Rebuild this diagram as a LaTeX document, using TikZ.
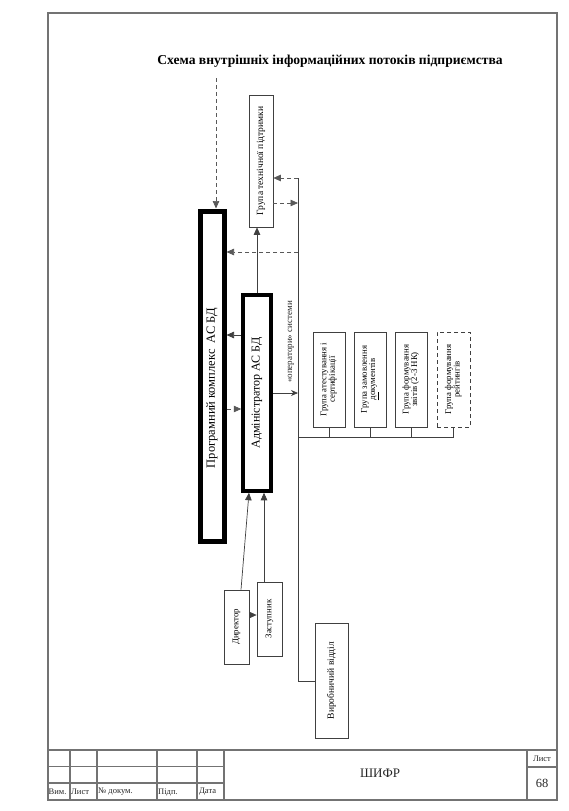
\documentclass[tikz,border=0pt]{standalone}
\usepackage{fontspec}
\setmainfont{Liberation Serif}
\usetikzlibrary{arrows.meta,calc}
\begin{document}
\begin{tikzpicture}[x=1pt,y=-1pt,
  thinbox/.style={draw=black!75, line width=0.7pt, inner sep=0pt, font=\fontsize{8.8}{9.5}\selectfont},
  ln/.style={draw=black!75, line width=0.7pt},
  arr/.style={ln, -{Triangle[length=7.5pt,width=6.5pt]}},
  darr/.style={arr, draw=black!65, dash pattern=on 4pt off 3pt},
  frame/.style={draw=black!55, line width=1.2pt},
  small/.style={font=\fontsize{8.5}{9}\selectfont, inner sep=0pt, text=black!85}]
\useasboundingbox (0,0) rectangle (568,811);
\renewcommand{\arraystretch}{0.85}
% title
\node[font=\bfseries\fontsize{13.6}{15}\selectfont] (title) at (330,61) {Схема внутрішніх інформаційних потоків підприємства};
% main boxes
\node[draw, line width=5pt, minimum width=24pt, minimum height=330pt, inner sep=0pt] (prog) at (212,376)
  {\rotatebox{90}{\fontsize{12.5}{13}\selectfont Програмний комплекс\ \ АС БД\hspace*{24pt}}};
\node[draw, line width=3.5pt, minimum width=28pt, minimum height=196pt, inner sep=0pt] (adm) at (257,393)
  {\rotatebox{90}{\fontsize{12}{13}\selectfont Адміністратор АС БД}};
\node[thinbox, minimum width=24pt, minimum height=132pt, font=\fontsize{9.5}{10}\selectfont] (tp) at (261,161)
  {\rotatebox{90}{Група технічної підтримки}};
% groups
\node[thinbox, minimum width=32pt, minimum height=95pt] (g1) at (329,379.5)
  {\rotatebox{90}{\begin{tabular}{@{}c@{}}Група атестування і\\сертифікації\end{tabular}}};
\node[thinbox, minimum width=32pt, minimum height=95pt] (g2) at (370,379.5)
  {\rotatebox{90}{\begin{tabular}{@{}c@{}}Група замовлення\\\underline{до}кументів\end{tabular}}};
\node[thinbox, minimum width=32pt, minimum height=95pt] (g3) at (411,379.5)
  {\rotatebox{90}{\begin{tabular}{@{}c@{}}Група формування\\звітів (2-3 НК)\end{tabular}}};
\node[thinbox, minimum width=33pt, minimum height=95pt, dash pattern=on 4pt off 3pt] (g4) at (453.5,379.5)
  {\rotatebox{90}{\begin{tabular}{@{}c@{}}Група формування\\рейтингів\end{tabular}}};
% bottom boxes
\node[thinbox, minimum width=25pt, minimum height=74pt] (dir) at (236.5,627) {\rotatebox{90}{Директор}};
\node[thinbox, minimum width=25pt, minimum height=74pt] (zast) at (269.5,619) {\rotatebox{90}{Заступник}};
\node[thinbox, minimum width=33pt, minimum height=115pt, font=\fontsize{9.5}{10}\selectfont] (vyr) at (331.5,680.5) {\rotatebox{90}{Виробничий відділ}};
% operators label
\node[small, rotate=90, font=\fontsize{9}{9}\selectfont] (oplab) at (291,342) {«оператори» системи};
% bus coordinates
\coordinate (bt) at (298,178);
\coordinate (b2) at (298,203);
\coordinate (b3) at (298,252);
\coordinate (b4) at (298,393);
\coordinate (b5) at (298,437);
\coordinate (bb) at (298,681);
\coordinate (dtop) at (216,78);
\coordinate (a1) at (257,335);
\coordinate (a2) at (257,409);
% connectors
\draw[darr] (dtop) -- (dtop |- prog.north);
\draw[arr] (adm.north) -- (adm.north |- tp.south);
\draw[ln] (bt) -- (bb) -- (bb -| vyr.west);
\draw[darr] (bt) -- (bt -| tp.east);
\draw[darr] (b2 -| tp.east) -- (b2);
\draw[darr] (b3) -- (b3 -| prog.east);
\draw[arr] (a1 -| adm.west) -- (a1 -| prog.east);
\draw[darr] (a2 -| prog.east) -- (a2 -| adm.west);
\draw[ln, -{Stealth[length=7pt,width=6pt]}] (b4 -| adm.east) -- (b4);
\draw[ln] (b5) -- (b5 -| g4.south);
\foreach \g in {g1,g2,g3,g4} \draw[ln] (\g.south) -- (\g.south |- b5);
\draw[arr] ($(dir.north)+(4.5,0)$) -- ($(adm.south)+(-8,0)$);
\draw[arr] ($(zast.north)+(-5.5,0)$) coordinate (zt) -- (zt |- adm.south);
\draw[arr] ($(dir.east)+(0,-12)$) coordinate (dz) -- (dz -| zast.west);
% frame and title block
\draw[frame] (48,13) rectangle (557,800);
\draw[frame] (48,750) -- (557,750);
\foreach \x in {70,97,157,197,224,527} \draw[frame] (\x,750) -- (\x,800);
\draw[frame] (48,766.5) -- (224,766.5);
\draw[frame] (48,783) -- (224,783);
\draw[frame] (527,767) -- (557,767);
\node[small, anchor=west] (t1) at (48.5,792) {Вим.};
\node[small, anchor=west] (t2) at (71,792) {Лист};
\node[small, anchor=west] (t3) at (98,792) {№ докум.};
\node[small, anchor=west] (t4) at (158,792) {Підп.};
\node[small, anchor=west] (t5) at (199,792) {Дата};
\node[font=\fontsize{13}{14}\selectfont, text=black!85] (shifr) at (380,773) {ШИФР};
\node[small] (list) at (542,759) {Лист};
\node[font=\fontsize{12.5}{13}\selectfont, text=black!85] (num) at (542,783) {68};
\end{tikzpicture}
\end{document}
